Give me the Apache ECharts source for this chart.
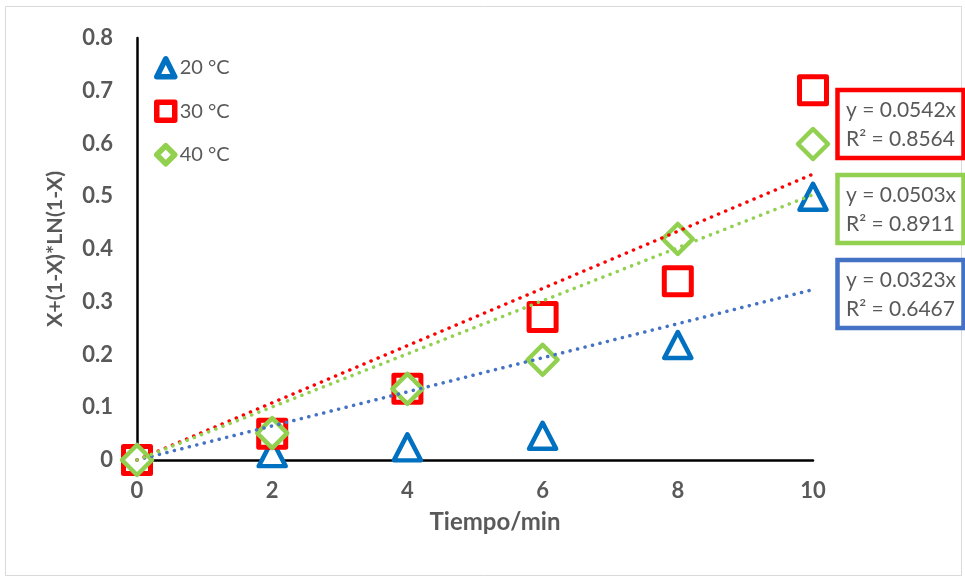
<!DOCTYPE html>
<html><head><meta charset="utf-8">
<script src="https://cdn.jsdelivr.net/npm/echarts@6/dist/echarts.min.js"></script>
<style>html,body{margin:0;padding:0;background:#fff}#c{width:965px;height:580px}</style>
</head><body><div id="c"></div>
<script>
const times = [0, 2, 4, 6, 8, 10];
const seriesNames = ['20 °C', '30 °C', '40 °C'];
const y20 = [0, 0.013, 0.024, 0.046, 0.218, 0.499];
const y30 = [0, 0.05, 0.135, 0.271, 0.339, 0.701];
const y40 = [0, 0.051, 0.135, 0.19, 0.419, 0.599];
const slopes = [0.0323, 0.0542, 0.0503];
const r2 = [0.6467, 0.8564, 0.8911];
const yTicks = [0, 0.1, 0.2, 0.3, 0.4, 0.5, 0.6, 0.7, 0.8];
const xTicks = [0, 2, 4, 6, 8, 10];

const colors = ['#0070C0', '#FF0000', '#92D050'];
const trendColors = ['#4472C4', '#FF0000', '#92D050'];
const symbols = ['triangle', 'rect', 'diamond'];
const sizes = [[27, 26], [27, 27], [30, 30]];
const FONT = 'Lato, "Open Sans", sans-serif';
const values = [y20, y30, y40];

const chart = echarts.init(document.getElementById('c'));
const series = [];
values.forEach((v, i) => {
  series.push({
    name: seriesNames[i], type: 'scatter', z: 3 + i,
    symbol: symbols[i], symbolSize: sizes[i],
    data: times.map((t, k) => [t, v[k]]),
    itemStyle: { color: '#fff', borderColor: colors[i], borderWidth: i === 1 ? 5 : 4.5, borderJoin: 'round', opacity: 1 },
    emphasis: { disabled: true }
  });
});
const xMax = xTicks[xTicks.length - 1];
slopes.forEach((s, i) => {
  series.push({
    name: 'trend' + i, type: 'line', z: 10, showSymbol: false, symbol: 'none',
    data: [[xTicks[0], s * xTicks[0]], [xMax, s * xMax]],
    lineStyle: { color: trendColors[i], width: 3.5, type: [0.1, 7.6], cap: 'round' },
    silent: true
  });
});

// trend label boxes: order red, green, blue
const boxOrder = [1, 2, 0];
const boxTops = [90, 175, 260];
const graphic = [{
  type: 'rect', shape: { x: 5.5, y: 6.5, width: 956, height: 569 },
  style: { fill: 'none', stroke: '#d9d9d9', lineWidth: 1 }, silent: true
}];
boxOrder.forEach((idx, j) => {
  graphic.push({
    type: 'rect', shape: { x: 837.5, y: boxTops[j], width: 126, height: 68 },
    style: { fill: '#fff', stroke: trendColors[idx], lineWidth: 4.5 }, z: 100
  });
  graphic.push({
    type: 'text', left: 846, top: boxTops[j] + 6, z: 101,
    style: {
      text: 'y = ' + slopes[idx].toFixed(4) + 'x\nR² = ' + r2[idx].toFixed(4),
      fill: '#595959', font: '21px ' + FONT, lineHeight: 29
    }
  });
});

chart.setOption({
  animation: false,
  textStyle: { fontFamily: FONT },
  grid: { left: 137, right: 152, top: 38, bottom: 120, containLabel: false },
  legend: {
    data: seriesNames, orient: 'vertical', left: 149, top: 51, itemGap: 20,
    itemWidth: 18, itemHeight: 18,
    textStyle: { color: '#595959', fontSize: 20, fontFamily: FONT },
    itemStyle: { borderWidth: 5.5 },
    selectedMode: false
  },
  xAxis: {
    type: 'value', min: 0, max: 10, interval: 2,
    name: 'Tiempo/min', nameLocation: 'middle', nameGap: 50,
    nameTextStyle: { color: '#595959', fontSize: 24, fontWeight: 'bold', fontFamily: FONT, padding: [0, 0, 0, 40] },
    axisLine: { show: true, onZero: false, lineStyle: { color: '#000', width: 2.5 } },
    axisTick: { show: false }, splitLine: { show: false },
    axisLabel: { color: '#595959', fontSize: 22, fontWeight: 'bold', margin: 20, fontFamily: FONT }
  },
  yAxis: {
    type: 'value', min: 0, max: 0.8, interval: 0.1,
    name: 'X+(1-X)*LN(1-X)', nameLocation: 'middle', nameGap: 71, nameRotate: 90,
    nameTextStyle: { color: '#595959', fontSize: 21.5, fontWeight: 'bold', fontFamily: FONT },
    axisLine: { show: true, onZero: false, lineStyle: { color: '#000', width: 2.5 } },
    axisTick: { show: false }, splitLine: { show: false },
    axisLabel: { color: '#595959', fontSize: 22, fontWeight: 'bold', margin: 24, fontFamily: FONT,
      formatter: v => String(Math.round(v * 10) / 10) }
  },
  graphic: graphic,
  series: series
});
</script></body></html>
